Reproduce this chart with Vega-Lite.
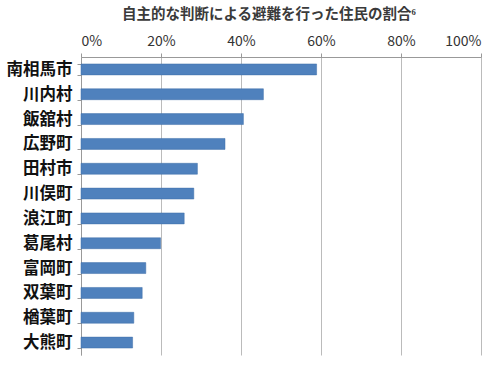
{
  "$schema": "https://vega.github.io/schema/vega-lite/v6.json",
  "width": 400,
  "height": 298,
  "autosize": {"type": "none"},
  "padding": {"left": 81, "top": 57, "right": 21, "bottom": 13},
  "background": "white",
  "title": {
    "text": "自主的な判断による避難を行った住民の割合⁶",
    "font": "Noto Sans CJK JP",
    "fontSize": 14.5,
    "fontWeight": "bold",
    "color": "#3a3a3a",
    "anchor": "middle",
    "dx": -12,
    "offset": 12
  },
  "config": {"view": {"stroke": null}},
  "data": {
    "values": [
      {"area": "南相馬市", "rate": 0.589},
      {"area": "川内村", "rate": 0.456},
      {"area": "飯舘村", "rate": 0.406},
      {"area": "広野町", "rate": 0.360},
      {"area": "田村市", "rate": 0.291},
      {"area": "川俣町", "rate": 0.282},
      {"area": "浪江町", "rate": 0.258},
      {"area": "葛尾村", "rate": 0.199},
      {"area": "富岡町", "rate": 0.162},
      {"area": "双葉町", "rate": 0.153},
      {"area": "楢葉町", "rate": 0.132},
      {"area": "大熊町", "rate": 0.129}
    ]
  },
  "mark": {"type": "bar", "color": "#4F81BD", "stroke": "#3f6fa8", "strokeWidth": 0.5},
  "encoding": {
    "y": {
      "field": "area",
      "type": "nominal",
      "sort": null,
      "scale": {"paddingInner": 0.56, "paddingOuter": 0.28},
      "axis": {
        "title": null,
        "labelFont": "Noto Sans CJK JP",
        "labelFontSize": 16.5,
        "labelFontWeight": "bold",
        "labelColor": "#111111",
        "labelPadding": 5,
        "tickBand": "extent",
        "tickSize": 4,
        "tickColor": "#999999",
        "domainColor": "#999999",
        "grid": false
      }
    },
    "x": {
      "field": "rate",
      "type": "quantitative",
      "scale": {"domain": [0, 1]},
      "axis": {
        "orient": "top",
        "title": null,
        "format": ".0%",
        "values": [0, 0.2, 0.4, 0.6, 0.8, 1],
        "labelFont": "Noto Sans CJK JP",
        "labelFontSize": 14,
        "labelColor": "#333333",
        "labelPadding": 5,
        "tickSize": 4,
        "tickColor": "#999999",
        "domainColor": "#999999",
        "grid": true,
        "gridColor": "#bbbbbb",
        "gridWidth": 1
      }
    }
  }
}
